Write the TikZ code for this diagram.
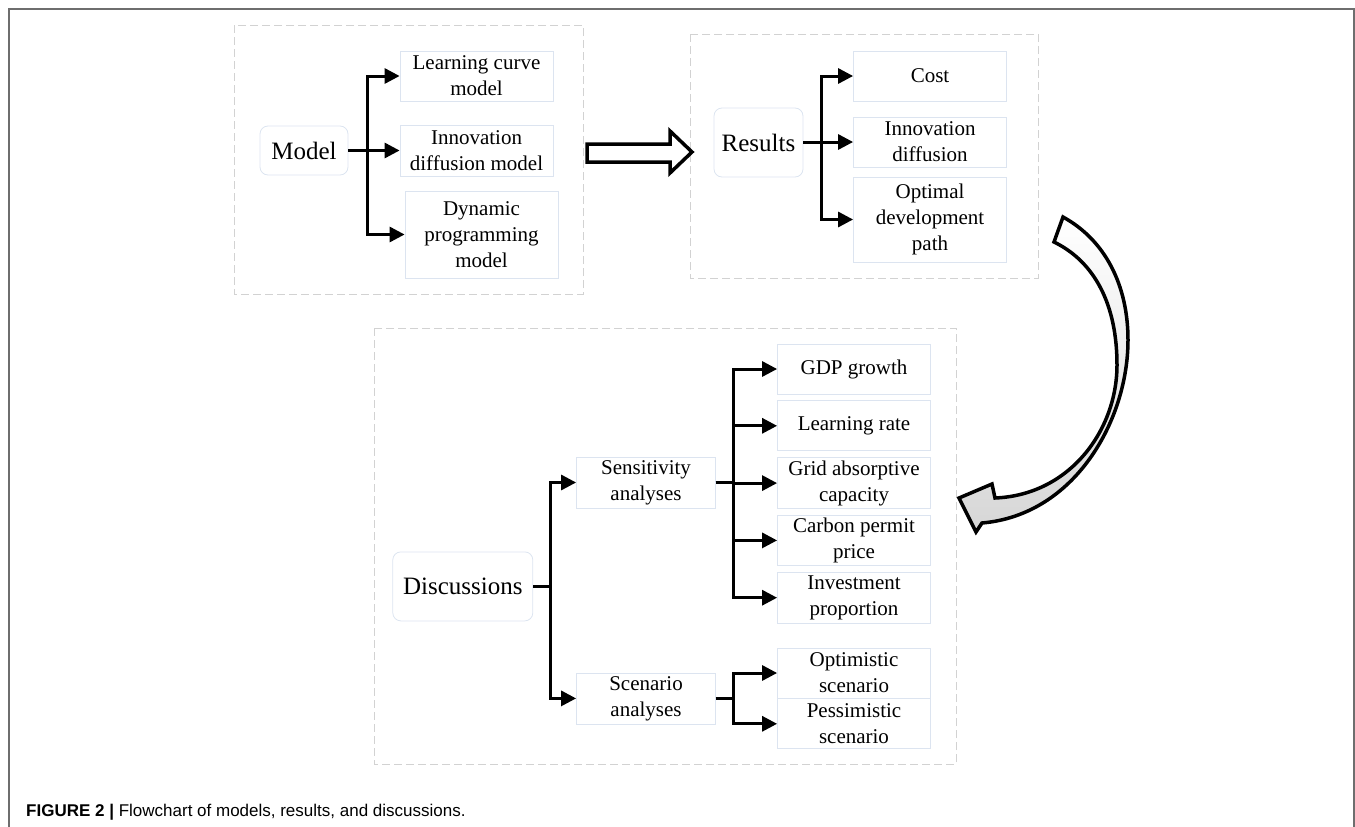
\documentclass[tikz,border=0pt]{standalone}
\usepackage{fontspec}
\setmainfont{Liberation Serif}
\newfontfamily\capfont{Liberation Sans}
\usepackage{tikz}
\usetikzlibrary{positioning,arrows.meta}
\definecolor{boxblue}{HTML}{DCE4F0}
\definecolor{dashgray}{HTML}{D2D2D2}
\definecolor{framegray}{HTML}{6E6E6E}
\tikzset{
  rootbox/.style={rectangle, rounded corners=8pt, draw=boxblue, line width=0.8pt, inner sep=0pt, font=\fontsize{25}{30}\selectfont},
  leafbox/.style={rectangle, draw=boxblue, line width=0.8pt, inner sep=0pt, align=center, minimum width=153, font=\fontsize{21}{26}\selectfont},
  groupbox/.style={draw=dashgray, line width=1pt, dash pattern=on 8pt off 4pt},
  fwd/.style={-{Triangle[length=15pt,width=15pt]}, line width=3pt, line join=miter},
  hollow/.style={draw=black, line width=3.5pt, fill=white, line join=miter},
  turnarrow/.style={draw=black, line width=3.5pt, line join=miter, top color=white, middle color=white, bottom color=black!16},
}

\begin{document}
\begin{tikzpicture}[x=1pt, y=-1pt]
  \useasboundingbox (0,0) rectangle (1355,827);
  % page frame
  \draw[framegray, line width=2pt] (9,827) -- (9,9) -- (1354,9) -- (1354,827);

  % dashed groups
  \draw[groupbox] (234,25) rectangle (583,294);
  \draw[groupbox] (690,34) rectangle (1038,278);
  \draw[groupbox] (374,328) rectangle (956,764);

  % model part
  \node[rootbox, minimum width=88, minimum height=49] (model) at (304,150.5) {Model};
  \node[leafbox, minimum height=50] (lcm) at (476.5,76) {Learning curve\\model};
  \node[leafbox, minimum height=51] (idm) at (476.5,150.5) {Innovation\\diffusion model};
  \node[leafbox, minimum height=87] (dpm) at (481.5,234.5) {Dynamic\\programming\\model};

  \draw[fwd] (model.east) -- ++(19,0) |- (lcm.west);
  \draw[fwd] (model.east) -- ++(19,0) |- (idm.west);
  \draw[fwd] (model.east) -- ++(19,0) |- (dpm.west);

  % results part
  \node[rootbox, minimum width=89, minimum height=69] (results) at (758.5,142.5) {Results};
  \node[leafbox, minimum height=50] (cost) at (930,76) {Cost};
  \node[leafbox, minimum height=50] (diff) at (930,142) {Innovation\\diffusion};
  \node[leafbox, minimum height=85] (path) at (930,219.5) {Optimal\\development\\path};

  \draw[fwd] (results.east) -- ++(18,0) |- (cost.west);
  \draw[fwd] (results.east) -- ++(18,0) |- (diff.west);
  \draw[fwd] (results.east) -- ++(18,0) |- (path.west);

  % discussions part
  \node[rootbox, minimum width=140, minimum height=69] (disc) at (462.8,586.4) {Discussions};
  \node[leafbox, minimum width=139, minimum height=51] (sens) at (646,482.5) {Sensitivity\\analyses};
  \node[leafbox, minimum width=139, minimum height=51] (scen) at (646,698.4) {Scenario\\analyses};

  \node[leafbox, minimum height=50] (gdp) at (854,369) {GDP growth};
  \node[leafbox, minimum height=50] (lrate) [below=6pt of gdp] {Learning rate};
  \node[leafbox, minimum height=51] (grid) [below=6pt of lrate] {Grid absorptive\\capacity};
  \node[leafbox, minimum height=50] (carbon) [below=6pt of grid] {Carbon permit\\price};
  \node[leafbox, minimum height=51] (invest) [below=6pt of carbon] {Investment\\proportion};
  \node[leafbox, minimum height=50] (optim) at (854,673) {Optimistic\\scenario};
  \node[leafbox, minimum height=50] (pessim) [below=0pt of optim] {Pessimistic\\scenario};

  \draw[fwd] (disc.east) -- ++(17,0) |- (sens.west);
  \draw[fwd] (disc.east) -- ++(17,0) |- (scen.west);
  \foreach \leaf in {gdp, lrate, grid, carbon, invest}
    \draw[fwd] (sens.east) -- ++(18,0) |- (\leaf.west);
  \foreach \leaf in {optim, pessim}
    \draw[fwd] (scen.east) -- ++(18,0) |- (\leaf.west);

  % block arrows between the groups
  \draw[hollow] (587,144) -- (670,144) -- (670,131) -- (692,152) -- (670,173) -- (670,162) -- (587,162) -- cycle;
  \draw[turnarrow] (1063,217) .. controls (1105,240) and (1128,285) .. (1128,340)
    .. controls (1128,420) and (1075,515) .. (982,523)
    -- (976,532) -- (959,498) -- (992,484) -- (995,498)
    .. controls (1070,495) and (1117,430) .. (1117,365)
    .. controls (1117,305) and (1095,262) .. (1054,242) -- cycle;

  % caption
  \node[anchor=base west, inner sep=0pt, font=\capfont\fontsize{17}{20}\selectfont] (caption) at (26,816)
    {\textbf{FIGURE 2 |} Flowchart of models, results, and discussions.};
\end{tikzpicture}
\end{document}
